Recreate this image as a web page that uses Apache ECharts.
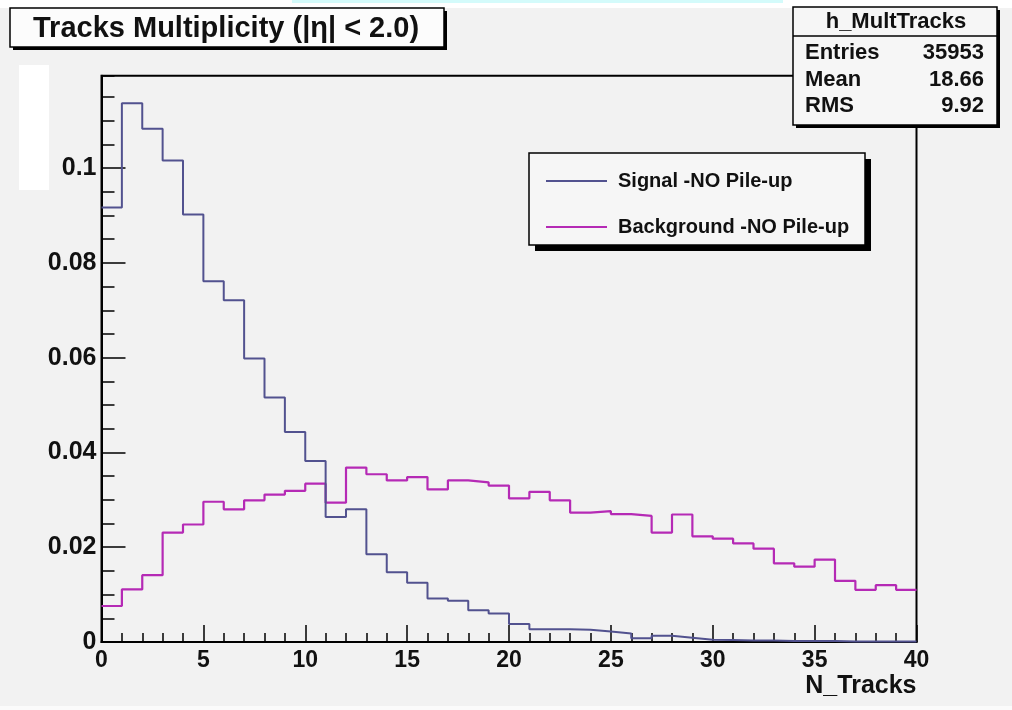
<!DOCTYPE html>
<html>
<head>
<meta charset="utf-8">
<script src="https://cdn.jsdelivr.net/npm/echarts@6/dist/echarts.min.js"></script>
<style>
html,body{margin:0;padding:0;background:#f2f2f2;}
#chart{width:1012px;height:710px;}
</style>
</head>
<body>
<div id="chart"></div>
<script>
// ---- data ----
const binLowEdges = [0,1,2,3,4,5,6,7,8,9,10,11,12,13,14,15,16,17,18,19,20,21,22,23,24,25,26,27,28,29,30,31,32,33,34,35,36,37,38,39];
const binUpperEdge = 40;
const signalValues = [0.0917,0.1137,0.1083,0.1016,0.0902,0.0761,0.0721,0.0598,0.0516,0.0443,
  0.0382,0.0264,0.0280,0.0185,0.0147,0.0125,0.0092,0.0087,0.0067,0.0060,
  0.0038,0.0027,0.0027,0.0026,0.0022,0.0018,0.0008,0.0013,0.0009,0.0005,
  0.0004,0.0003,0.0003,0.0002,0.0002,0.0002,0.0001,0.0001,0.0001,0.0001];
const backgroundValues = [0.0076,0.0111,0.0141,0.0231,0.0248,0.0296,0.0280,0.0299,0.0311,0.0319,
  0.0334,0.0294,0.0368,0.0354,0.0341,0.0348,0.0322,0.0341,0.0337,0.0330,
  0.0303,0.0317,0.0299,0.0273,0.0276,0.0270,0.0266,0.0231,0.0269,0.0223,
  0.0218,0.0208,0.0197,0.0166,0.0159,0.0174,0.0129,0.0110,0.0120,0.0110];
const seriesNames = ['Signal -NO Pile-up', 'Background -NO Pile-up'];
const xTickLabels = ['0','5','10','15','20','25','30','35','40'];
const yTickLabels = ['0','0.02','0.04','0.06','0.08','0.1'];
const titleText = 'Tracks Multiplicity (|\u03b7| < 2.0)';
const statsName = 'h_MultTracks';
const statsRows = [['Entries','35953'],['Mean','18.66'],['RMS','9.92']];
const xAxisTitle = 'N_Tracks';

// histogram outline points (left edges + closing upper edge)
function histPoints(vals){
  const pts = binLowEdges.map((x,i)=>[x, vals[i]]);
  pts.push([binUpperEdge, vals[vals.length-1]]);
  return pts;
}

const FONT = '"Liberation Sans", Arial, Helvetica, sans-serif';
const chart = echarts.init(document.getElementById('chart'), null, {renderer:'canvas'});

const yMax = 0.1195;
function yFmt(v){
  const r = Math.round(v/0.02);
  if (Math.abs(v - r*0.02) > 1e-9 || r > 5) return '';
  return yTickLabels[r];
}
function xFmt(v){
  const r = Math.round(v/5);
  if (Math.abs(v - r*5) > 1e-9) return '';
  return xTickLabels[r];
}

const SIG_COLOR = '#52528f';
const BKG_COLOR = '#b52ab5';

const option = {
  backgroundColor: '#f2f2f2',
  animation: false,
  grid: {
    left: 101.5, right: 95.5, top: 75.7, bottom: 68,
    show: true, borderColor: '#000', borderWidth: 2, backgroundColor: 'transparent'
  },
  legend: {
    data: seriesNames,
    orient: 'vertical',
    left: 541, top: 166,
    itemWidth: 61, itemHeight: 2, itemGap: 26,
    icon: 'rect',
    z: 20,
    textStyle: {fontFamily: FONT, fontWeight: 'bold', fontSize: 20, color: '#111', padding:[0,0,0,6]}
  },
  xAxis: {
    type: 'value', min: 0, max: 40, interval: 5,
    axisLine: {show: true, lineStyle: {color: '#000', width: 2}},
    axisTick: {show: true, inside: true, length: 17, lineStyle: {color: '#000', width: 1.5}},
    minorTick: {show: true, splitNumber: 5, length: 9, lineStyle: {color: '#000', width: 1.5}},
    splitLine: {show: false},
    axisLabel: {formatter: xFmt, fontFamily: FONT, fontWeight: 'bold', fontSize: 23, color: '#111', margin: 7},
    name: xAxisTitle, nameLocation: 'end', nameGap: 0,
    nameTextStyle: {fontFamily: FONT, fontWeight: 'bold', fontSize: 25, color: '#111', align: 'right', verticalAlign: 'top', padding: [32,0,0,0]}
  },
  yAxis: [{
    type: 'value', min: 0, max: yMax, interval: 0.02,
    axisLine: {show: true, lineStyle: {color: '#000', width: 2}},
    axisTick: {show: true, inside: true, length: 24, lineStyle: {color: '#000', width: 1.5}},
    splitLine: {show: false},
    axisLabel: {formatter: yFmt, fontFamily: FONT, fontWeight: 'bold', fontSize: 25, color: '#111', margin: 5, showMaxLabel: false}
  },{
    type: 'value', min: 0, max: yMax, interval: 0.005, position: 'left', offset: 0,
    axisLine: {show: false},
    axisTick: {show: true, inside: true, length: 13, lineStyle: {color: '#000', width: 1.5}},
    splitLine: {show: false},
    axisLabel: {show: false}
  }],
  series: [
    {
      name: seriesNames[0], type: 'line', step: 'end', data: histPoints(signalValues),
      symbol: 'none', z: 5,
      lineStyle: {color: SIG_COLOR, width: 2}, itemStyle: {color: SIG_COLOR}
    },
    {
      name: seriesNames[1], type: 'line', step: 'end', data: histPoints(backgroundValues),
      symbol: 'none', z: 4,
      lineStyle: {color: BKG_COLOR, width: 2.2}, itemStyle: {color: BKG_COLOR}
    }
  ],
  graphic: [
    // page artefacts
    {type:'rect', shape:{x:0,y:0,width:1012,height:8}, style:{fill:'#ffffff'}, z:-10, silent:true},
    {type:'rect', shape:{x:292,y:0,width:491,height:3}, style:{fill:'#d4fbfb'}, z:-9, silent:true},
    {type:'rect', shape:{x:19,y:65,width:30,height:125}, style:{fill:'#ffffff'}, z:-9, silent:true},
    {type:'rect', shape:{x:0,y:706,width:1012,height:4}, style:{fill:'#fbfbfb'}, z:-9, silent:true},
    // title box
    {type:'rect', shape:{x:13,y:11,width:434,height:39}, style:{fill:'#000'}, z:50, silent:true},
    {type:'rect', shape:{x:10,y:8,width:434,height:39}, style:{fill:'#fcfcfc', stroke:'#000', lineWidth:1.5}, z:51, silent:true},
    {type:'text', x:33, y:29, z:52, silent:true,
     style:{text:titleText, font:'bold 29px ' + FONT, fill:'#111', textVerticalAlign:'middle', verticalAlign:'middle'}},
    // stats box
    {type:'rect', shape:{x:796,y:10,width:204,height:118}, style:{fill:'#000'}, z:50, silent:true},
    {type:'rect', shape:{x:793,y:7,width:204,height:118}, style:{fill:'#f6f6f6', stroke:'#000', lineWidth:1.5}, z:51, silent:true},
    {type:'line', shape:{x1:793,y1:36,x2:997,y2:36}, style:{stroke:'#000', lineWidth:1.5}, z:52, silent:true},
    {type:'text', x:896, y:22, z:53, silent:true,
     style:{text:statsName, font:'bold 22px ' + FONT, fill:'#111', align:'center', textAlign:'center', verticalAlign:'middle', textVerticalAlign:'middle'}},
    {type:'text', x:805, y:53, z:53, silent:true, style:{text:statsRows[0][0], font:'bold 22px ' + FONT, fill:'#111', verticalAlign:'middle', textVerticalAlign:'middle'}},
    {type:'text', x:984, y:53, z:53, silent:true, style:{text:statsRows[0][1], font:'bold 22px ' + FONT, fill:'#111', align:'right', textAlign:'right', verticalAlign:'middle', textVerticalAlign:'middle'}},
    {type:'text', x:805, y:80, z:53, silent:true, style:{text:statsRows[1][0], font:'bold 22px ' + FONT, fill:'#111', verticalAlign:'middle', textVerticalAlign:'middle'}},
    {type:'text', x:984, y:80, z:53, silent:true, style:{text:statsRows[1][1], font:'bold 22px ' + FONT, fill:'#111', align:'right', textAlign:'right', verticalAlign:'middle', textVerticalAlign:'middle'}},
    {type:'text', x:805, y:106, z:53, silent:true, style:{text:statsRows[2][0], font:'bold 22px ' + FONT, fill:'#111', verticalAlign:'middle', textVerticalAlign:'middle'}},
    {type:'text', x:984, y:106, z:53, silent:true, style:{text:statsRows[2][1], font:'bold 22px ' + FONT, fill:'#111', align:'right', textAlign:'right', verticalAlign:'middle', textVerticalAlign:'middle'}},
    // legend box
    {type:'rect', shape:{x:535,y:159,width:336,height:92}, style:{fill:'#000'}, z:10, silent:true},
    {type:'rect', shape:{x:529,y:153,width:336,height:92}, style:{fill:'#f6f6f6', stroke:'#000', lineWidth:1.5}, z:11, silent:true}
  ]
};
chart.setOption(option);
</script>
</body>
</html>
